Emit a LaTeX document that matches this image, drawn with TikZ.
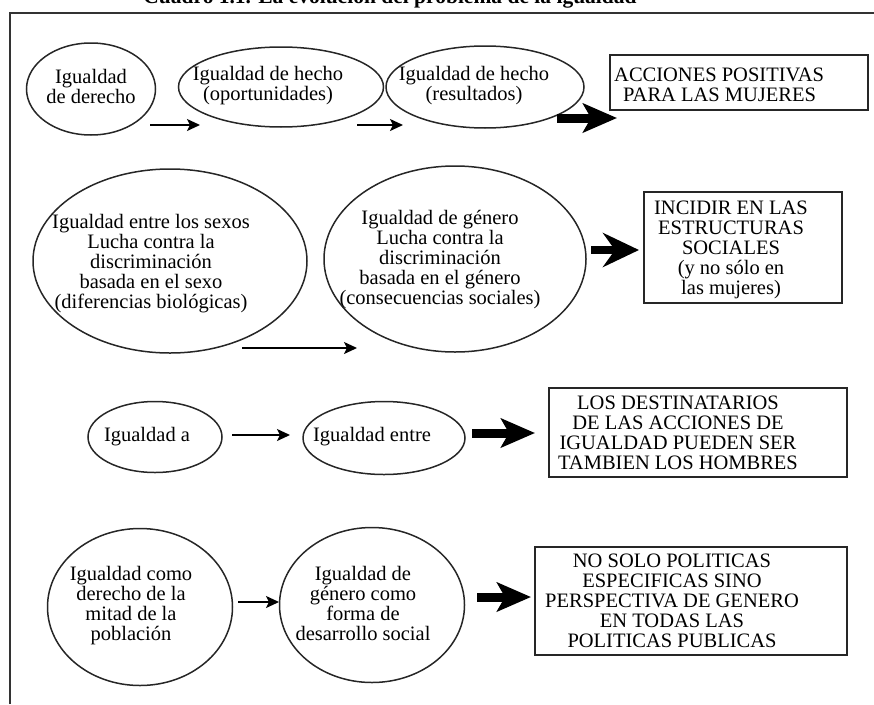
\documentclass[tikz,border=0pt]{standalone}
\usepackage{fontspec}
\setmainfont{Liberation Serif}
\usetikzlibrary{shapes.geometric,arrows.meta}
\tikzset{
  ell/.style={draw=black!85, line width=1.5pt, ellipse, inner sep=0pt},
  boxn/.style={draw=black!85, line width=1.8pt, rectangle, inner sep=0pt},
  txt/.style={align=center, inner sep=0pt, font=\fontsize{20.5}{20}\selectfont},
  thinarrow/.style={line width=1.7pt, -{Stealth[length=13pt,width=12pt,inset=3pt]}},
  fatarrow/.style={line width=9pt, -{Stealth[length=34pt,width=29pt,inset=8pt]}},
  notcharrow/.style={line width=8pt, -{Stealth[length=36pt,width=34pt,inset=12pt]}},
  frameline/.style={line width=2pt, draw=black!80}
}
\begin{document}
\begin{tikzpicture}[x=1pt,y=-1pt]
\useasboundingbox (0,0) rectangle (874,704);
\clip (0,0) rectangle (874,704);
% title (cut off at the top)
\node[anchor=base, inner sep=0pt, font=\bfseries\fontsize{21.5}{22}\selectfont] (title) at (390,3.5) {Cuadro 1.1. La evolución del problema de la igualdad};
% frame
\coordinate (fr1) at (10,704);
\coordinate (fr2) at (10,13);
\coordinate (fr3) at (874,13);
\draw[frameline] (fr1) -- (fr2) -- (fr3);

% ---------- row 1
\node[ell, minimum width=129pt, minimum height=92pt] (e1) at (91,89) {};
\node[ell, minimum width=205pt, minimum height=80pt] (e2) at (281,87) {};
\node[ell, minimum width=198pt, minimum height=82pt] (e3) at (485,87) {};
\node[txt] (t1) at (91,86) {Igualdad\\de derecho};
\node[txt] (t2) at (268,86) {Igualdad de hecho\\(oportunidades)};
\node[txt] (t3) at (474,86) {Igualdad de hecho\\(resultados)};
\node[boxn, minimum width=258pt, minimum height=55pt] (b1) at (739,82.5) {};
\node[txt, align=left, anchor=west] (tb1) at (614,85) {ACCIONES POSITIVAS\\\hspace*{9pt}PARA LAS MUJERES};
\coordinate (a1s) at (150,125); \coordinate (a1e) at (200,125);
\coordinate (a2s) at (357,125); \coordinate (a2e) at (403,125);
\coordinate (f1s) at (557,118); \coordinate (f1e) at (617,118);
\draw[thinarrow] (a1s) -- (a1e);
\draw[thinarrow] (a2s) -- (a2e);
\draw[fatarrow] (f1s) -- (f1e);

% ---------- row 2
\node[ell, minimum width=274pt, minimum height=184pt] (e4) at (170,261) {};
\node[ell, minimum width=262pt, minimum height=186pt] (e5) at (455,259) {};
\node[txt] (t4) at (151,264) {Igualdad entre los sexos\\Lucha contra la\\discriminación\\basada en el sexo\\(diferencias biológicas)};
\node[txt] (t5) at (440,260) {Igualdad de género\\Lucha contra la\\discriminación\\basada en el género\\(consecuencias sociales)};
\node[boxn, minimum width=198pt, minimum height=111pt] (b2) at (743,247.5) {};
\node[txt] (tb2) at (731,250) {INCIDIR EN LAS\\ESTRUCTURAS\\SOCIALES\\(y no sólo en\\las mujeres)};
\coordinate (a3s) at (242,348); \coordinate (a3e) at (357,348);
\coordinate (f2s) at (591,250); \coordinate (f2e) at (639,250);
\draw[thinarrow] (a3s) -- (a3e);
\draw[notcharrow] (f2s) -- (f2e);

% ---------- row 3
\node[ell, minimum width=134pt, minimum height=71pt] (e6) at (155,437) {};
\node[ell, minimum width=162pt, minimum height=73pt] (e7) at (384,438) {};
\node[txt] (t6) at (147,437) {Igualdad a};
\node[txt] (t7) at (372,437) {Igualdad entre};
\node[boxn, minimum width=298pt, minimum height=89pt] (b3) at (698,432.5) {};
\node[txt] (tb3) at (678,433) {LOS DESTINATARIOS\\DE LAS ACCIONES DE\\IGUALDAD PUEDEN SER\\TAMBIEN LOS HOMBRES};
\coordinate (a4s) at (232,435); \coordinate (a4e) at (290,435);
\coordinate (f3s) at (472,433); \coordinate (f3e) at (535,433);
\draw[thinarrow] (a4s) -- (a4e);
\draw[fatarrow] (f3s) -- (f3e);

% ---------- row 4
\node[ell, minimum width=185pt, minimum height=157pt] (e8) at (140,607) {};
\node[ell, minimum width=185pt, minimum height=155pt] (e9) at (372,605) {};
\node[txt] (t8) at (131,606) {Igualdad como\\derecho de la\\mitad de la\\población};
\node[txt] (t9) at (363,603) {Igualdad de\\género como\\forma de\\desarrollo social};
\node[boxn, minimum width=312pt, minimum height=108pt] (b4) at (691,601) {};
\node[txt] (tb4) at (672,601) {NO SOLO POLITICAS\\ESPECIFICAS SINO\\PERSPECTIVA DE GENERO\\EN TODAS LAS\\POLITICAS PUBLICAS};
\coordinate (a5s) at (238,602); \coordinate (a5e) at (279,602);
\coordinate (f4s) at (477,597); \coordinate (f4e) at (531,597);
\draw[thinarrow] (a5s) -- (a5e);
\draw[fatarrow] (f4s) -- (f4e);
\end{tikzpicture}
\end{document}
